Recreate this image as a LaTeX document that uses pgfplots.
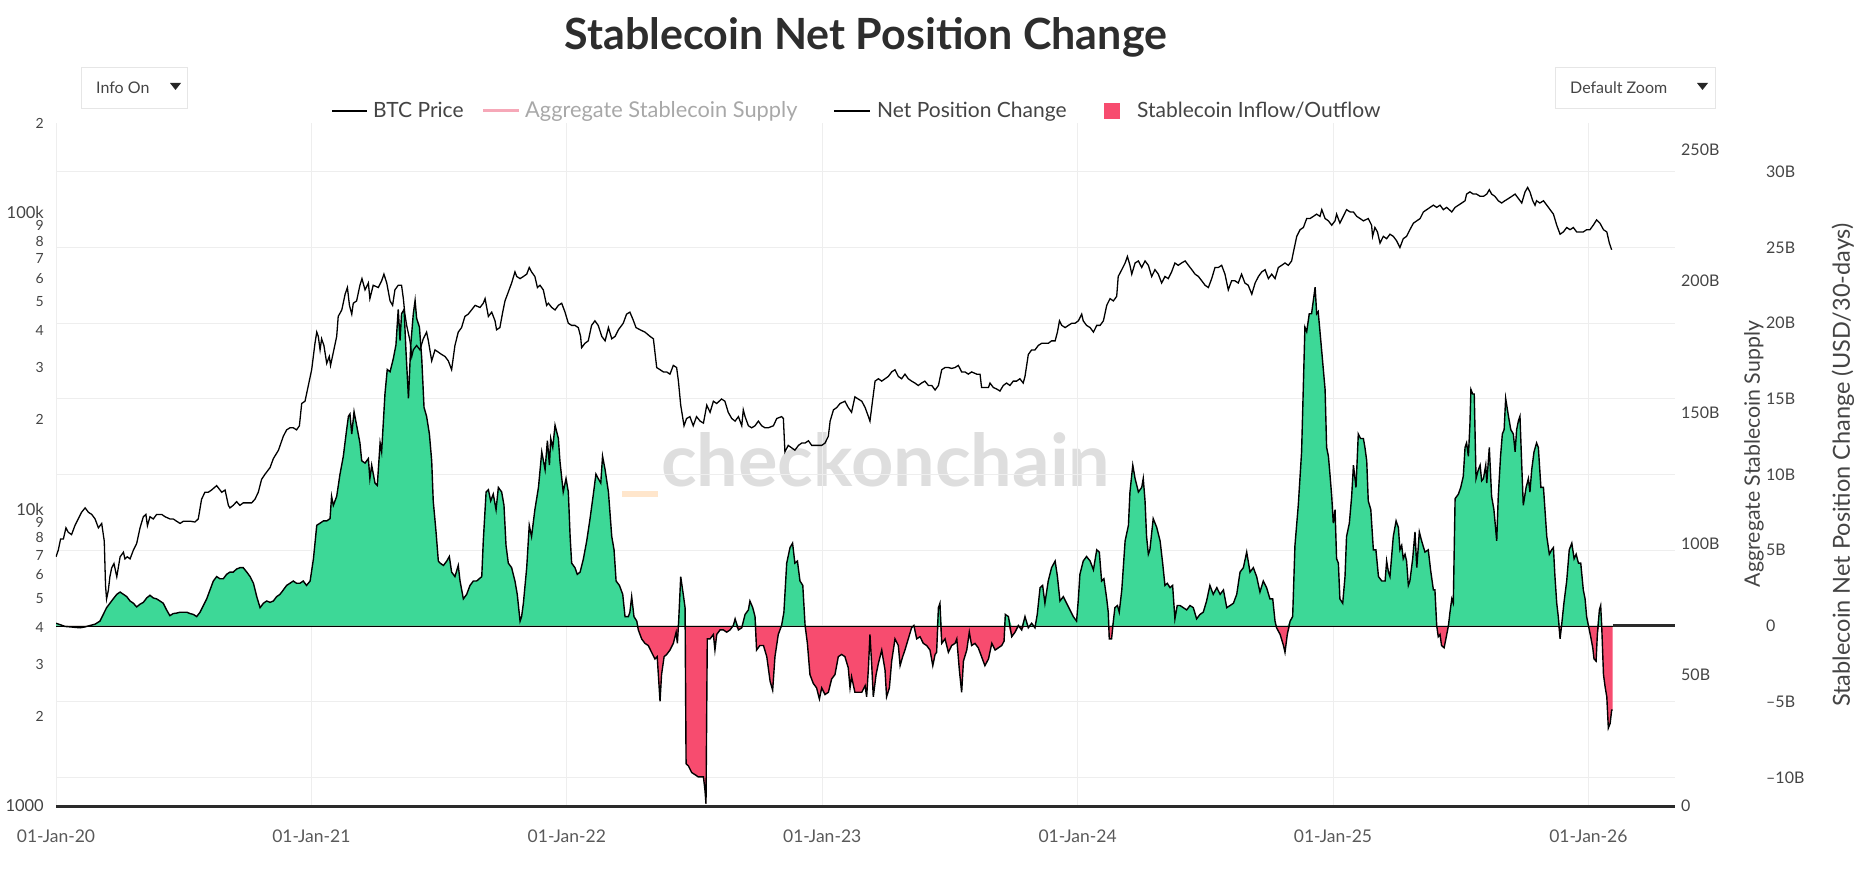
\documentclass[border=0pt]{standalone}
\usepackage{fontspec}
\setmainfont{Lato}
\usepackage{graphicx}
\usepackage{pgfplots}
\usepackage{pgfplotstable}
\pgfplotsset{compat=1.18}

\definecolor{inflow}{HTML}{3DD897}
\definecolor{outflow}{HTML}{F74C6F}
\definecolor{gridc}{HTML}{EEEEEE}
\definecolor{zeroc}{HTML}{2A2A2A}
\definecolor{tickc}{HTML}{444444}
\definecolor{titlec}{HTML}{2D2D2D}
\definecolor{supplyc}{HTML}{F6A8B8}
\definecolor{hiddenc}{HTML}{A8A8A8}
\definecolor{wmark}{HTML}{DEDEDE}
\definecolor{wdash}{HTML}{FFE6CC}
\definecolor{btnborder}{HTML}{E6E6E6}

\newcommand\fs[1]{\fontsize{#1}{#1}\selectfont}
\newcommand\mj[1]{{\fs{16.5}#1}}
\newcommand\mn[1]{{\fs{14}#1}}

% BTC price (USD), t = fractional year
\pgfplotstableread{
t p
2020.000 6910
2020.009 7280
2020.018 7940
2020.029 7940
2020.039 8650
2020.048 8360
2020.061 8210
2020.074 8800
2020.087 9270
2020.100 9760
2020.114 10100
2020.127 9760
2020.140 9600
2020.153 9270
2020.166 8650
2020.179 8950
2020.189 7800
2020.194 5520
2020.198 4980
2020.205 5330
2020.211 5920
2020.218 6340
2020.227 6560
2020.238 5920
2020.251 6910
2020.264 7160
2020.270 6800
2020.279 6910
2020.290 6800
2020.303 7280
2020.316 7670
2020.329 8650
2020.342 9430
2020.352 9600
2020.358 8800
2020.368 9430
2020.381 9270
2020.394 9600
2020.414 9600
2020.427 9430
2020.446 9270
2020.459 9270
2020.472 9110
2020.486 8950
2020.499 9110
2020.525 9110
2020.544 9050
2020.557 9270
2020.570 10800
2020.583 11400
2020.596 11400
2020.609 11600
2020.629 12000
2020.649 11400
2020.662 11600
2020.675 10300
2020.681 10100
2020.694 10300
2020.707 10600
2020.720 10300
2020.733 10500
2020.747 10500
2020.766 10500
2020.779 10800
2020.792 11400
2020.805 12600
2020.818 13100
2020.838 13800
2020.851 14800
2020.871 15800
2020.890 17600
2020.903 18500
2020.916 18800
2020.929 18800
2020.942 18500
2020.953 19100
2020.962 22700
2020.975 23100
2020.988 26100
2021.001 29500
2021.014 36200
2021.021 39500
2021.027 38200
2021.034 34400
2021.040 37500
2021.049 35600
2021.060 31000
2021.070 32700
2021.075 30500
2021.086 33800
2021.099 38200
2021.105 44600
2021.119 46900
2021.132 53000
2021.141 55800
2021.149 48600
2021.158 45400
2021.164 49400
2021.177 50300
2021.190 56800
2021.198 59800
2021.210 54800
2021.223 57800
2021.229 51200
2021.242 56800
2021.262 55800
2021.275 58800
2021.284 61900
2021.295 57800
2021.308 50300
2021.318 48600
2021.327 54800
2021.340 56800
2021.353 56800
2021.360 51200
2021.366 45400
2021.373 41600
2021.386 36900
2021.393 32700
2021.399 34400
2021.412 35600
2021.425 34400
2021.438 37500
2021.451 39500
2021.458 36900
2021.471 31600
2021.484 34400
2021.497 33800
2021.510 33200
2021.523 32700
2021.536 31600
2021.549 29500
2021.562 35600
2021.575 39500
2021.588 40900
2021.601 44600
2021.614 45400
2021.627 46900
2021.641 48600
2021.660 47800
2021.673 49400
2021.680 51200
2021.693 44600
2021.706 46100
2021.719 43100
2021.725 40200
2021.738 40900
2021.749 46100
2021.758 50300
2021.771 53900
2021.784 57800
2021.797 63000
2021.804 60800
2021.817 59800
2021.830 60800
2021.843 61900
2021.853 65200
2021.862 63000
2021.875 60800
2021.885 55800
2021.895 56800
2021.908 54800
2021.921 48600
2021.928 49400
2021.941 47800
2021.954 46900
2021.967 48600
2021.980 49400
2021.993 46100
2022.006 42300
2022.019 41600
2022.032 41600
2022.045 40900
2022.054 38200
2022.058 35000
2022.071 36200
2022.084 36900
2022.097 41600
2022.110 43100
2022.123 41600
2022.137 38200
2022.150 36900
2022.163 40900
2022.176 37500
2022.189 38200
2022.202 40200
2022.221 42300
2022.234 45400
2022.247 46100
2022.258 43800
2022.271 40900
2022.287 40200
2022.306 39500
2022.326 38200
2022.339 37500
2022.352 30000
2022.365 29500
2022.378 29000
2022.391 29000
2022.404 28500
2022.417 30500
2022.430 30000
2022.437 27000
2022.446 22400
2022.459 19100
2022.469 20200
2022.482 20500
2022.495 19100
2022.508 20500
2022.522 19800
2022.535 19500
2022.548 22400
2022.561 21200
2022.574 23100
2022.587 22700
2022.606 23500
2022.619 23100
2022.632 21200
2022.646 20200
2022.659 19800
2022.672 20500
2022.685 19100
2022.691 21600
2022.698 20500
2022.711 19100
2022.724 18800
2022.737 19100
2022.750 19800
2022.763 19100
2022.776 18800
2022.789 18800
2022.809 19100
2022.822 20200
2022.841 20500
2022.848 20200
2022.854 15600
2022.867 16400
2022.880 16100
2022.893 15800
2022.907 16400
2022.920 16700
2022.933 16700
2022.946 17000
2022.959 16400
2022.978 16400
2022.998 16400
2023.011 16700
2023.024 17600
2023.031 19800
2023.044 21600
2023.057 22000
2023.070 22700
2023.089 23100
2023.102 22000
2023.115 21200
2023.128 23900
2023.141 23500
2023.155 23100
2023.168 22000
2023.181 20500
2023.187 19800
2023.198 23500
2023.207 27000
2023.220 27500
2023.233 27000
2023.246 27500
2023.259 28000
2023.272 29000
2023.285 29500
2023.298 28000
2023.311 27500
2023.324 28500
2023.337 27500
2023.350 27000
2023.363 26600
2023.376 26100
2023.389 26600
2023.402 27000
2023.416 26100
2023.429 26100
2023.442 25200
2023.455 26100
2023.468 29500
2023.481 30000
2023.494 30000
2023.507 29800
2023.520 30000
2023.533 30500
2023.546 29000
2023.559 29000
2023.572 28500
2023.585 29000
2023.605 28500
2023.618 28500
2023.624 25700
2023.637 25700
2023.651 25700
2023.657 26600
2023.670 25700
2023.683 25400
2023.696 25000
2023.709 26100
2023.722 26600
2023.735 26100
2023.748 27000
2023.761 27000
2023.774 27500
2023.787 26600
2023.794 28000
2023.807 33200
2023.820 34400
2023.833 34400
2023.846 35600
2023.859 36200
2023.872 36200
2023.885 36200
2023.898 36900
2023.912 36900
2023.921 39500
2023.929 43100
2023.938 41600
2023.951 40900
2023.964 41600
2023.977 42300
2023.990 42300
2024.003 43100
2024.016 45400
2024.022 43100
2024.035 41600
2024.049 40900
2024.062 39500
2024.075 41600
2024.088 41600
2024.101 43100
2024.114 48600
2024.127 51200
2024.140 50300
2024.153 52100
2024.159 60800
2024.173 64100
2024.186 67500
2024.195 71000
2024.205 66300
2024.212 61900
2024.225 67500
2024.238 68600
2024.251 65200
2024.264 68600
2024.277 66300
2024.290 60800
2024.303 64100
2024.316 61900
2024.329 57800
2024.342 60800
2024.355 59800
2024.368 63000
2024.381 67500
2024.394 66300
2024.407 67500
2024.421 68600
2024.434 66300
2024.447 64100
2024.460 61900
2024.473 60800
2024.486 58800
2024.499 56800
2024.512 55800
2024.525 59800
2024.538 65200
2024.551 65200
2024.564 66300
2024.577 61900
2024.590 54800
2024.603 58800
2024.616 58800
2024.629 57800
2024.642 61900
2024.655 57800
2024.668 56800
2024.682 53000
2024.695 57800
2024.708 60800
2024.721 63000
2024.734 64100
2024.747 59800
2024.760 61900
2024.773 59800
2024.786 65200
2024.799 66300
2024.812 67500
2024.825 66300
2024.838 68600
2024.845 73500
2024.858 83000
2024.871 87400
2024.884 88900
2024.897 95300
2024.910 95300
2024.923 96900
2024.936 98600
2024.949 96900
2024.956 102100
2024.969 95300
2024.982 93600
2024.995 90500
2025.008 93600
2025.014 98600
2025.027 92000
2025.040 96900
2025.053 102100
2025.067 100300
2025.080 100300
2025.093 96900
2025.106 95300
2025.119 93600
2025.138 95300
2025.151 90500
2025.155 83000
2025.164 88900
2025.174 85900
2025.184 78800
2025.197 83000
2025.210 81500
2025.223 84400
2025.236 83000
2025.249 80200
2025.262 76100
2025.275 81500
2025.288 83000
2025.301 87400
2025.315 92000
2025.328 93600
2025.341 95300
2025.354 100300
2025.367 102100
2025.380 103900
2025.393 105700
2025.406 103900
2025.419 105700
2025.432 102100
2025.445 103900
2025.465 100300
2025.478 103900
2025.491 105700
2025.504 107500
2025.517 109400
2025.523 115200
2025.536 117200
2025.549 115200
2025.562 115200
2025.576 113200
2025.589 113200
2025.602 115200
2025.612 119200
2025.621 115200
2025.634 113200
2025.647 109400
2025.660 107500
2025.673 109400
2025.687 111300
2025.700 113200
2025.713 115200
2025.726 111300
2025.739 107500
2025.752 117200
2025.762 121300
2025.771 117200
2025.782 109400
2025.791 105700
2025.797 109400
2025.810 107500
2025.824 109400
2025.837 105700
2025.850 102100
2025.863 98600
2025.876 90500
2025.889 84400
2025.902 85900
2025.915 88900
2025.928 87400
2025.941 88900
2025.954 85900
2025.967 85900
2025.980 85900
2025.993 87400
2026.006 87400
2026.019 90500
2026.032 94300
2026.045 92000
2026.059 87400
2026.072 85900
2026.082 78800
2026.091 74800
}\btc

% Stablecoin net position change (USD bn per 30 days)
\pgfplotstableread{
t v
2020.000 0.18
2020.016 0.09
2020.035 -0.03
2020.055 -0.06
2020.074 -0.09
2020.094 -0.12
2020.114 -0.06
2020.133 0.03
2020.153 0.12
2020.172 0.32
2020.185 0.76
2020.198 1.21
2020.211 1.50
2020.224 1.79
2020.238 2.09
2020.251 2.24
2020.264 2.09
2020.277 1.94
2020.290 1.65
2020.303 1.50
2020.316 1.26
2020.329 1.44
2020.342 1.56
2020.355 1.85
2020.368 2.03
2020.381 1.85
2020.394 1.79
2020.407 1.65
2020.420 1.50
2020.433 1.06
2020.446 0.68
2020.459 0.82
2020.472 0.85
2020.486 0.91
2020.499 0.91
2020.512 0.91
2020.525 0.82
2020.538 0.76
2020.551 0.62
2020.564 0.91
2020.577 1.35
2020.590 1.79
2020.603 2.38
2020.616 2.97
2020.629 3.26
2020.642 3.12
2020.655 3.12
2020.668 3.41
2020.681 3.56
2020.694 3.56
2020.707 3.76
2020.720 3.85
2020.733 3.85
2020.747 3.56
2020.760 3.26
2020.773 2.82
2020.786 1.94
2020.799 1.21
2020.812 1.50
2020.825 1.65
2020.838 1.56
2020.851 1.65
2020.864 1.94
2020.877 2.09
2020.890 2.38
2020.903 2.68
2020.916 2.82
2020.929 2.97
2020.942 2.82
2020.955 2.82
2020.968 2.97
2020.981 2.68
2020.995 2.97
2021.008 4.44
2021.021 6.65
2021.034 6.79
2021.047 6.94
2021.060 6.94
2021.073 7.09
2021.079 8.56
2021.086 7.97
2021.099 8.56
2021.112 10.03
2021.125 11.21
2021.138 12.97
2021.145 13.85
2021.151 14.00
2021.158 12.68
2021.167 14.15
2021.177 13.26
2021.190 12.09
2021.197 10.91
2021.210 10.76
2021.223 11.06
2021.229 9.74
2021.236 10.62
2021.249 9.44
2021.258 9.29
2021.269 12.09
2021.275 11.50
2021.288 15.32
2021.297 16.94
2021.308 16.79
2021.321 17.68
2021.331 18.56
2021.340 20.91
2021.347 18.85
2021.353 20.62
2021.363 20.91
2021.370 18.26
2021.380 15.03
2021.389 18.56
2021.399 20.62
2021.406 21.50
2021.412 20.32
2021.423 19.74
2021.432 17.68
2021.441 14.44
2021.451 13.85
2021.462 12.68
2021.471 10.91
2021.477 8.26
2021.488 6.21
2021.497 4.29
2021.504 4.15
2021.517 4.00
2021.530 4.29
2021.540 4.59
2021.549 3.56
2021.562 3.26
2021.575 4.00
2021.582 2.97
2021.595 1.79
2021.608 2.09
2021.621 2.68
2021.634 2.97
2021.647 2.97
2021.667 3.26
2021.673 5.62
2021.684 8.85
2021.693 9.00
2021.702 8.26
2021.712 8.71
2021.723 7.68
2021.732 9.15
2021.745 8.85
2021.754 7.97
2021.762 5.32
2021.771 4.15
2021.784 3.85
2021.797 2.97
2021.806 2.09
2021.817 0.32
2021.823 0.62
2021.830 1.50
2021.843 3.85
2021.853 6.65
2021.862 5.91
2021.875 7.68
2021.889 9.15
2021.902 11.50
2021.915 10.32
2021.924 12.24
2021.932 10.62
2021.937 12.38
2021.945 11.79
2021.954 13.26
2021.967 12.38
2021.973 10.91
2021.986 8.85
2021.997 9.74
2022.006 8.85
2022.013 5.91
2022.019 4.15
2022.032 3.85
2022.041 3.41
2022.052 3.56
2022.065 4.44
2022.078 5.62
2022.091 7.09
2022.104 8.71
2022.114 10.03
2022.123 9.74
2022.133 9.44
2022.140 11.21
2022.150 10.32
2022.163 8.85
2022.176 5.91
2022.185 5.03
2022.193 2.97
2022.206 2.68
2022.219 2.09
2022.228 0.62
2022.241 0.62
2022.247 0.91
2022.254 1.94
2022.263 0.62
2022.274 0.32
2022.280 -0.26
2022.293 -0.85
2022.306 -1.15
2022.319 -1.29
2022.332 -1.74
2022.345 -2.18
2022.354 -2.03
2022.365 -4.97
2022.371 -3.21
2022.381 -2.03
2022.391 -1.88
2022.404 -1.59
2022.417 -1.15
2022.428 -0.41
2022.433 -1.15
2022.438 0.32
2022.446 3.26
2022.456 2.09
2022.463 1.21
2022.467 -9.09
2022.476 -9.24
2022.489 -9.68
2022.502 -9.82
2022.515 -9.97
2022.528 -9.97
2022.535 -9.97
2022.541 -10.85
2022.545 -11.74
2022.550 -0.85
2022.561 -0.85
2022.574 -0.56
2022.580 -1.59
2022.587 -0.56
2022.600 -0.26
2022.613 -0.26
2022.626 -0.41
2022.639 -0.26
2022.652 0.03
2022.659 0.47
2022.672 -0.26
2022.685 -0.12
2022.698 0.76
2022.711 1.06
2022.717 1.65
2022.728 1.21
2022.737 0.62
2022.743 -1.59
2022.756 -1.29
2022.770 -1.29
2022.783 -2.03
2022.796 -3.65
2022.806 -4.24
2022.815 -2.03
2022.828 -0.56
2022.841 0.03
2022.850 0.91
2022.861 4.15
2022.874 5.18
2022.884 5.47
2022.893 4.15
2022.903 4.29
2022.913 2.97
2022.924 2.68
2022.933 0.03
2022.942 -1.15
2022.952 -3.21
2022.965 -3.79
2022.978 -4.09
2022.989 -4.82
2022.998 -4.09
2023.011 -4.53
2023.024 -4.38
2023.037 -3.50
2023.050 -3.21
2023.063 -2.03
2023.076 -1.88
2023.089 -2.03
2023.102 -2.76
2023.109 -4.09
2023.115 -3.35
2023.128 -4.38
2023.141 -4.38
2023.155 -4.38
2023.168 -3.94
2023.174 -4.68
2023.181 -2.76
2023.187 -0.56
2023.194 -2.62
2023.200 -4.68
2023.211 -3.21
2023.220 -2.47
2023.233 -1.59
2023.246 -2.91
2023.252 -4.68
2023.263 -4.09
2023.272 -2.32
2023.285 -0.85
2023.298 -1.29
2023.305 -2.62
2023.315 -2.03
2023.324 -1.59
2023.337 -0.85
2023.350 -0.12
2023.359 0.03
2023.370 -0.85
2023.383 -0.71
2023.396 -1.15
2023.409 -1.29
2023.422 -1.59
2023.433 -2.62
2023.442 -1.88
2023.448 -1.74
2023.455 1.21
2023.461 1.50
2023.468 -1.15
2023.481 -0.85
2023.494 -1.74
2023.507 -1.29
2023.520 -1.15
2023.527 -0.85
2023.537 -2.91
2023.546 -4.38
2023.553 -2.32
2023.566 -1.59
2023.576 -0.41
2023.585 -1.29
2023.598 -1.15
2023.611 -1.44
2023.624 -2.03
2023.637 -2.62
2023.651 -2.18
2023.664 -1.15
2023.677 -1.59
2023.690 -1.44
2023.703 -1.29
2023.712 -1.00
2023.717 0.76
2023.729 0.62
2023.742 -0.71
2023.755 -0.41
2023.768 0.03
2023.781 -0.26
2023.794 0.62
2023.807 -0.12
2023.820 0.18
2023.833 -0.12
2023.842 0.76
2023.853 2.53
2023.863 2.68
2023.872 1.50
2023.885 2.97
2023.898 3.85
2023.912 4.29
2023.921 3.26
2023.931 1.65
2023.944 1.94
2023.957 1.50
2023.970 1.06
2023.983 0.62
2023.996 0.32
2024.003 1.79
2024.009 3.41
2024.022 4.29
2024.035 4.59
2024.049 4.29
2024.062 3.71
2024.075 5.03
2024.085 4.88
2024.094 2.97
2024.103 3.12
2024.114 1.79
2024.120 0.91
2024.124 -0.85
2024.133 -0.85
2024.140 0.32
2024.146 1.21
2024.156 1.35
2024.163 0.91
2024.173 2.38
2024.186 5.62
2024.199 6.65
2024.205 8.85
2024.216 10.62
2024.225 9.74
2024.238 8.85
2024.251 9.15
2024.257 9.74
2024.264 8.26
2024.270 5.91
2024.277 4.74
2024.283 5.03
2024.296 7.09
2024.310 6.50
2024.323 5.62
2024.333 4.15
2024.342 2.68
2024.351 2.82
2024.362 2.53
2024.372 2.68
2024.381 0.47
2024.390 1.35
2024.401 1.35
2024.414 1.21
2024.427 1.06
2024.440 1.35
2024.453 1.21
2024.466 0.47
2024.479 0.76
2024.492 0.91
2024.505 1.65
2024.518 2.68
2024.531 2.09
2024.545 2.53
2024.558 2.09
2024.571 2.38
2024.584 1.21
2024.597 1.35
2024.610 1.50
2024.623 2.09
2024.636 3.56
2024.649 3.85
2024.662 4.88
2024.675 3.56
2024.688 3.85
2024.701 3.26
2024.714 2.24
2024.727 2.97
2024.740 2.53
2024.753 1.79
2024.764 1.79
2024.773 0.32
2024.779 -0.12
2024.793 -0.56
2024.806 -1.29
2024.812 -1.74
2024.821 -0.56
2024.832 0.32
2024.842 0.62
2024.851 5.32
2024.864 7.97
2024.877 11.50
2024.890 19.74
2024.897 19.44
2024.907 20.62
2024.916 20.62
2024.923 21.50
2024.930 22.38
2024.936 20.62
2024.942 20.76
2024.949 19.44
2024.956 18.12
2024.969 15.62
2024.975 11.79
2024.982 11.21
2024.988 10.03
2024.995 8.56
2025.001 6.79
2025.008 7.68
2025.014 4.44
2025.021 4.15
2025.027 1.79
2025.038 1.50
2025.047 3.26
2025.053 5.91
2025.064 6.79
2025.073 8.56
2025.080 10.62
2025.090 9.15
2025.099 12.68
2025.108 12.38
2025.119 12.38
2025.125 11.79
2025.132 10.91
2025.138 8.26
2025.148 7.68
2025.158 5.03
2025.168 5.03
2025.178 3.26
2025.191 2.97
2025.204 2.97
2025.210 4.29
2025.217 3.56
2025.223 3.26
2025.236 5.91
2025.247 6.94
2025.256 6.50
2025.262 5.03
2025.269 5.32
2025.275 4.44
2025.282 4.74
2025.288 4.29
2025.295 2.68
2025.301 2.97
2025.312 4.44
2025.321 6.21
2025.328 3.85
2025.338 6.21
2025.347 5.62
2025.360 4.88
2025.373 5.03
2025.382 3.71
2025.393 2.38
2025.399 2.38
2025.406 0.03
2025.412 -0.71
2025.419 -0.56
2025.425 -1.29
2025.435 -1.44
2025.442 -0.85
2025.452 0.03
2025.458 0.91
2025.465 1.79
2025.471 1.50
2025.478 8.41
2025.491 8.71
2025.500 9.15
2025.510 9.88
2025.517 11.79
2025.523 12.09
2025.530 11.21
2025.536 13.26
2025.540 15.62
2025.547 15.32
2025.553 15.32
2025.560 9.74
2025.569 10.32
2025.576 10.62
2025.582 9.59
2025.589 9.74
2025.598 10.62
2025.602 9.44
2025.612 11.79
2025.621 8.56
2025.630 7.68
2025.641 5.62
2025.647 8.56
2025.656 11.21
2025.663 12.68
2025.670 12.97
2025.676 15.03
2025.687 13.85
2025.696 12.97
2025.706 12.68
2025.713 11.50
2025.719 12.97
2025.726 13.56
2025.732 13.85
2025.739 10.62
2025.745 7.97
2025.756 9.15
2025.765 9.74
2025.771 8.85
2025.778 10.32
2025.787 11.50
2025.797 12.09
2025.804 11.79
2025.814 9.15
2025.824 9.15
2025.837 5.91
2025.847 4.74
2025.856 5.03
2025.863 5.18
2025.869 3.26
2025.876 1.50
2025.882 0.62
2025.889 -0.85
2025.895 0.03
2025.904 1.50
2025.915 2.97
2025.925 5.03
2025.935 5.47
2025.944 4.44
2025.952 4.74
2025.961 4.15
2025.970 4.15
2025.980 2.38
2025.987 1.79
2025.993 0.62
2026.000 0.03
2026.009 -0.71
2026.017 -1.44
2026.022 -2.18
2026.030 -2.32
2026.035 -0.56
2026.043 1.06
2026.048 1.35
2026.052 0.03
2026.059 -3.21
2026.066 -4.09
2026.072 -4.68
2026.078 -6.74
2026.085 -6.44
2026.091 -5.56
2026.095 -5.56
}\netchg

\pgfplotsset{
  chartbase/.style={
    at={(56pt,65pt)}, anchor=south west,
    scale only axis, width=1619pt, height=683pt,
    xmin=2020, xmax=2026.339,
    axis line style={draw=none},
    major tick length=0pt, minor tick length=0pt,
    tick style={draw=none},
    ticklabel style={text=tickc},
  }
}

\begin{document}
\begin{tikzpicture}[x=1pt,y=1pt]
\useasboundingbox (0,0) rectangle (1858,871);

% brand watermark behind the plot
\node[anchor=south west, inner sep=0pt, text=wmark] at (661,384)
  {\resizebox{449pt}{54pt}{\bfseries checkonchain}};
\fill[wdash] (622,374) rectangle (658,380);

% title
\node[anchor=base, text=titlec, inner sep=0pt] at (866,821)
  {\fs{43}\bfseries Stablecoin Net Position Change};

% dropdown buttons
\draw[btnborder, fill=white, line width=1pt] (81,762) rectangle (187,803);
\node[anchor=base west, inner sep=0pt, text=tickc] at (96,777) {\fs{16}Info On};
\fill[black!85] (170,788) -- (181,788) -- (175.5,781) -- cycle;
\draw[btnborder, fill=white, line width=1pt] (1555,762) rectangle (1715,803);
\node[anchor=base west, inner sep=0pt, text=tickc] at (1570,777) {\fs{16}Default Zoom};
\fill[black!85] (1697,788) -- (1708,788) -- (1702.5,781) -- cycle;

% legend
\draw[black, line width=1.8pt] (332,760) -- (367,760);
\node[anchor=base west, inner sep=0pt, text=tickc] at (373,753) {\fs{21}BTC Price};
\draw[supplyc, line width=3pt] (483,760) -- (519,760);
\node[anchor=base west, inner sep=0pt, text=hiddenc] at (525,753) {\fs{21.8}Aggregate Stablecoin Supply};
\draw[black, line width=1.8pt] (834,760) -- (870,760);
\node[anchor=base west, inner sep=0pt, text=tickc] at (877,753) {\fs{21}Net Position Change};
\fill[outflow] (1104,752) rectangle (1120,768);
\node[anchor=base west, inner sep=0pt, text=tickc] at (1137,753) {\fs{21}Stablecoin Inflow/Outflow};

% right-hand axis titles
\node[rotate=90, text=tickc, inner sep=0pt] at (1754,417) {\fs{21.3}Aggregate Stablecoin Supply};
\node[rotate=90, text=tickc, inner sep=0pt] at (1843,406) {\fs{23.5}Stablecoin Net Position Change (USD/30-days)};

% net position change axis: grid, inflow/outflow areas and outline
\begin{axis}[chartbase,
  ymin=-11.89, ymax=33.22,
  xtick={2020,2021,2022,2023,2024,2025,2026},
  xticklabels={01-Jan-20,01-Jan-21,01-Jan-22,01-Jan-23,01-Jan-24,01-Jan-25,01-Jan-26},
  xticklabel style={anchor=center, inner sep=0pt, yshift=-30pt, font=\fs{17.5}, text=black!65},
  xmajorgrids, ymajorgrids,
  grid style={gridc, line width=1pt},
  ytick={-10,-5,0,5,10,15,20,25,30},
  yticklabels={–10B,–5B,0,5B,10B,15B,20B,25B,30B},
  yticklabel pos=right,
  yticklabel style={anchor=west, inner sep=0pt, xshift=91pt, font=\fs{16}},
]
\addplot[fill=inflow, draw=none] table[x=t, y expr={max(\thisrow{v},0)}] {\netchg} \closedcycle;
\addplot[fill=outflow, draw=none] table[x=t, y expr={min(\thisrow{v},0)}] {\netchg} \closedcycle;
\draw[black, line width=0.8pt] (axis cs:2020,0) -- (axis cs:2026.095,0);
\draw[zeroc, line width=3pt] (axis cs:2026.095,0) -- (axis cs:2026.339,0);
\addplot[black, line width=1.4pt] table[x=t, y=v] {\netchg};
\end{axis}

% aggregate stablecoin supply axis (series hidden, scale only)
\begin{axis}[chartbase,
  clip=false,
  ymin=0, ymax=260.3,
  xtick=\empty,
  ytick={0,50,100,150,200,250},
  yticklabels={0,50B,100B,150B,200B,250B},
  yticklabel pos=right,
  yticklabel style={anchor=west, inner sep=0pt, xshift=6pt, font=\fs{16}},
]
\addplot[draw=none] coordinates {(2020,0) (2026.339,250)};
\draw[zeroc, line width=3pt] (axis cs:2020,0) -- (axis cs:2026.339,0);
\end{axis}

% BTC price axis (log)
\begin{axis}[chartbase,
  ymode=log, ymin=1000, ymax=200000,
  xtick=\empty,
  ytick={1000,2000,3000,4000,5000,6000,7000,8000,9000,10000,20000,30000,40000,50000,60000,70000,80000,90000,100000,200000},
  yticklabels={\mj{1000},\mn{2},\mn{3},\mn{4},\mn{5},\mn{6},\mn{7},\mn{8},\mn{9},\mj{10k},\mn{2},\mn{3},\mn{4},\mn{5},\mn{6},\mn{7},\mn{8},\mn{9},\mj{100k},\mn{2}},
  yticklabel style={anchor=east, inner sep=0pt, xshift=-12pt},
]
\addplot[black, line width=1.3pt] table[x=t, y=p] {\btc};
\end{axis}
\end{tikzpicture}
\end{document}
